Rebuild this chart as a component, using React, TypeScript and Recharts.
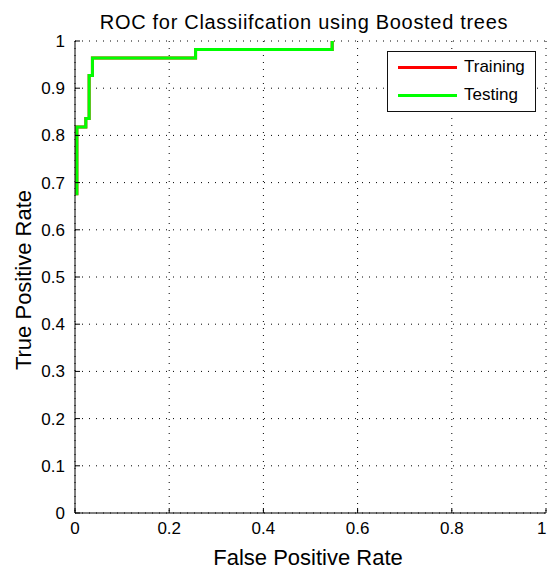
import { LineChart, Line, XAxis, YAxis, CartesianGrid, Legend, Label } from 'recharts'

const FONT = '"Liberation Sans", Arial, Helvetica, sans-serif'

const fprTicks = [0, 0.2, 0.4, 0.6, 0.8, 1]
const tprTicks = [0, 0.1, 0.2, 0.3, 0.4, 0.5, 0.6, 0.7, 0.8, 0.9, 1]

// ROC corners of the testing curve
const testingFpr = [0.004, 0.004, 0.023, 0.023, 0.03, 0.03, 0.037, 0.037, 0.256, 0.256, 0.546, 0.546]
const testingTpr = [0.673, 0.818, 0.818, 0.836, 0.836, 0.927, 0.927, 0.964, 0.964, 0.982, 0.982, 1]

// training curve is drawn first and is fully hidden under the testing one
const trainingFpr = testingFpr
const trainingTpr = testingTpr

const seriesNames = ['Training', 'Testing']
const seriesColors = ['#ff0000', '#00ff00']

const toPoints = (xs: number[], ys: number[]) => xs.map((x, i) => ({ fpr: x, tpr: ys[i] }))

const trainingData = toPoints(trainingFpr, trainingTpr)
const testingData = toPoints(testingFpr, testingTpr)

function RocLegend() {
  return (
    <div
      style={{
        position: 'relative',
        width: 149,
        height: 61,
        boxSizing: 'border-box',
        border: '1px solid #111',
        background: '#fff',
        fontFamily: FONT,
        fontSize: 17,
        color: '#000',
      }}
    >
      {seriesNames.map((name, i) => (
        <div key={name} style={{ position: 'absolute', left: 10, top: 5 + i * 27.5, height: 20, display: 'flex', alignItems: 'center' }}>
          <svg width={60} height={20} style={{ display: 'block' }}>
            <line x1={0} y1={10.5} x2={59} y2={10.5} stroke={seriesColors[i]} strokeWidth={3} />
          </svg>
          <span style={{ marginLeft: 6, lineHeight: '20px' }}>{name}</span>
        </div>
      ))}
    </div>
  )
}

// bottom tick label; the last one is right-aligned so it stays inside the picture
const FprTick = (props: any) => {
  const { x, y, payload } = props
  const last = payload.value === fprTicks[fprTicks.length - 1]
  return (
    <text
      x={last ? x + 0.5 : x}
      y={y}
      dy="0.71em"
      textAnchor={last ? 'end' : 'middle'}
      fontSize={17}
      fontFamily={FONT}
      fill="#000"
    >
      {payload.value}
    </text>
  )
}

export default function App() {
  const tickStyle = { fill: '#000', fontSize: 17, fontFamily: FONT }

  return (
    <div style={{ position: 'absolute', left: 0, top: 0, width: 547, height: 570, background: '#fff' }}>
      <div
        style={{
          position: 'absolute',
          left: 0,
          width: 608,
          top: 12,
          textAlign: 'center',
          fontFamily: FONT,
          fontSize: 20,
          lineHeight: '20px',
          letterSpacing: 0.7,
          color: '#000',
          whiteSpace: 'nowrap',
        }}
      >
        ROC for Classiifcation using Boosted trees
      </div>
      <LineChart width={547} height={570} margin={{ top: 41, right: 1, bottom: 0, left: 0 }}>
        <CartesianGrid stroke="#000" strokeDasharray="1 6" />
        <XAxis
          dataKey="fpr"
          type="number"
          domain={[0, 1]}
          ticks={fprTicks}
          interval={0}
          height={57}
          stroke="#000"
          tickSize={-5}
          tickMargin={14}
          tick={<FprTick />}
          allowDataOverflow
        >
          <Label
            content={() => (
              <text x={308} y={565} textAnchor="middle" fontSize={22} fontFamily={FONT} fill="#000">
                False Positive Rate
              </text>
            )}
          />
        </XAxis>
        <YAxis
          type="number"
          domain={[0, 1]}
          ticks={tprTicks}
          interval={0}
          width={75}
          stroke="#000"
          tickSize={-5}
          tickMargin={15}
          tick={tickStyle}
          allowDataOverflow
        >
          <Label
            content={() => (
              <text
                x={31}
                y={280}
                transform="rotate(-90, 31, 280)"
                textAnchor="middle"
                fontSize={22}
                fontFamily={FONT}
                fill="#000"
              >
                True Positive Rate
              </text>
            )}
          />
        </YAxis>
        <XAxis
          xAxisId="top"
          orientation="top"
          type="number"
          domain={[0, 1]}
          ticks={fprTicks}
          interval={0}
          height={0}
          stroke="#000"
          tickSize={-5}
          tick={false}
          allowDataOverflow
        />
        <YAxis
          yAxisId="right"
          orientation="right"
          type="number"
          domain={[0, 1]}
          ticks={tprTicks}
          interval={0}
          width={0}
          stroke="#000"
          tickSize={-5}
          tick={false}
          allowDataOverflow
        />
        <Legend
          layout="vertical"
          align="center"
          verticalAlign="middle"
          wrapperStyle={{ left: 387, top: 51, width: 149, height: 61 }}
          content={() => <RocLegend />}
        />
        <Line
          data={trainingData}
          dataKey="tpr"
          name="Training"
          type="linear"
          stroke={seriesColors[0]}
          strokeWidth={3}
          dot={false}
          activeDot={false}
          isAnimationActive={false}
        />
        <Line
          data={testingData}
          dataKey="tpr"
          name="Testing"
          type="linear"
          stroke={seriesColors[1]}
          strokeWidth={3}
          dot={false}
          activeDot={false}
          isAnimationActive={false}
        />
      </LineChart>
    </div>
  )
}
